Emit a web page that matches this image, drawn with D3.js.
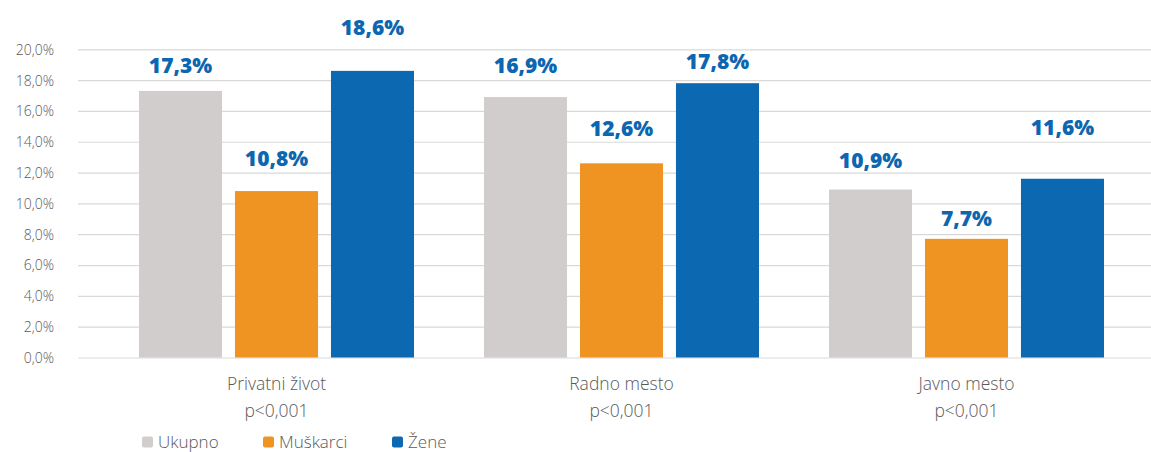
<!DOCTYPE html>
<html><head><meta charset="utf-8">
<script src="https://cdn.jsdelivr.net/npm/d3@7"></script>
<style>
html,body{margin:0;padding:0;background:#fff;}
svg{display:block;}
</style>
</head><body>
<svg id="chart" width="1151" height="452"></svg>
<script>
const categories = ["Privatni život", "Radno mesto", "Javno mesto"];
const subLabels = ["p<0,001", "p<0,001", "p<0,001"];
const series = ["Ukupno", "Muškarci", "Žene"];
const ukupno = [17.3, 16.9, 10.9];
const muskarci = [10.8, 12.6, 7.7];
const zene = [18.6, 17.8, 11.6];
const yTicks = [0, 2, 4, 6, 8, 10, 12, 14, 16, 18, 20];

// layout / style (not data)
const colors = ["#d0cdcc", "#ef9322", "#0c68b1"];
const labelLift = [[17.6, 24.4, 21.2], [25, 27.6, 12.8], [36, 13.9, 43.7]]; // px above bar, per series per category
const values = [ukupno, muskarci, zene];

const svg = d3.select("#chart");
const fontLight = "'Open Sans', 'Noto Sans', sans-serif";
const y = d3.scaleLinear().domain([0, 20]).range([357.5, 49.3]);
const x0 = d3.scaleBand().domain(categories).range([104, 1139]).paddingInner(0.203).paddingOuter(0.1015);
const x1 = d3.scaleBand().domain(series).range([0, x0.bandwidth()]).paddingInner(0.135);

const fmt = v => d3.format(".1f")(v).replace(".", ",") + "%";

// gridlines
const grid = svg.append("g").attr("transform", "translate(78,0)")
  .call(d3.axisLeft(y).tickValues(yTicks).tickSize(-(1151 - 78)).tickFormat(""));
grid.select(".domain").remove();
grid.selectAll(".tick line").attr("stroke", "#d9d9d9").attr("stroke-width", 1.2);

// y axis labels
const yAxis = svg.append("g").attr("transform", "translate(54,0)")
  .call(d3.axisLeft(y).tickValues(yTicks).tickSize(0).tickPadding(0).tickFormat(fmt));
yAxis.select(".domain").remove();
yAxis.selectAll(".tick text").attr("fill", "#595959").attr("font-size", "14px")
  .attr("font-family", fontLight).attr("font-weight", 300).attr("dy", "0.35em");

// bars
const rows = [];
categories.forEach((c, ci) => series.forEach((s, si) => rows.push({c, ci, s, si, v: values[si][ci]})));
svg.append("g").selectAll("rect").data(rows).join("rect")
  .attr("x", d => x0(d.c) + x1(d.s))
  .attr("y", d => y(d.v))
  .attr("width", x1.bandwidth())
  .attr("height", d => y(0) - y(d.v))
  .attr("fill", d => colors[d.si]);

// value labels
svg.append("g").selectAll("text").data(rows).join("text")
  .attr("x", d => x0(d.c) + x1(d.s) + x1.bandwidth() / 2)
  .attr("y", d => y(d.v) - labelLift[d.si][d.ci])
  .attr("text-anchor", "middle")
  .attr("font-family", "'Open Sans', Lato, sans-serif")
  .attr("font-weight", 800)
  .attr("font-size", "21px")
  .attr("fill", "#0d66b0")
  .text(d => fmt(d.v));

// category labels
const cat = svg.append("g").selectAll("g").data(categories).join("g")
  .attr("transform", d => `translate(${x0(d) + x0.bandwidth() / 2},0)`);
cat.append("text").attr("y", 390).attr("text-anchor", "middle")
  .attr("font-family", fontLight).attr("font-weight", 300).attr("font-size", "17.5px").attr("fill", "#595959").text(d => d);
cat.append("text").attr("y", 417).attr("text-anchor", "middle")
  .attr("font-family", fontLight).attr("font-weight", 300).attr("font-size", "17.5px").attr("fill", "#595959")
  .text((d, i) => subLabels[i]);

// legend
const legendX = [142, 263, 392];
const leg = svg.append("g").selectAll("g").data(series).join("g")
  .attr("transform", (d, i) => `translate(${legendX[i]},436.5)`);
leg.append("rect").attr("width", 11).attr("height", 11).attr("rx", 2)
  .attr("fill", (d, i) => colors[i]);
leg.append("text").attr("x", 16).attr("y", 11)
  .attr("font-family", fontLight).attr("font-weight", 300).attr("font-size", "17px").attr("fill", "#595959").text(d => d);
</script>
</body></html>
